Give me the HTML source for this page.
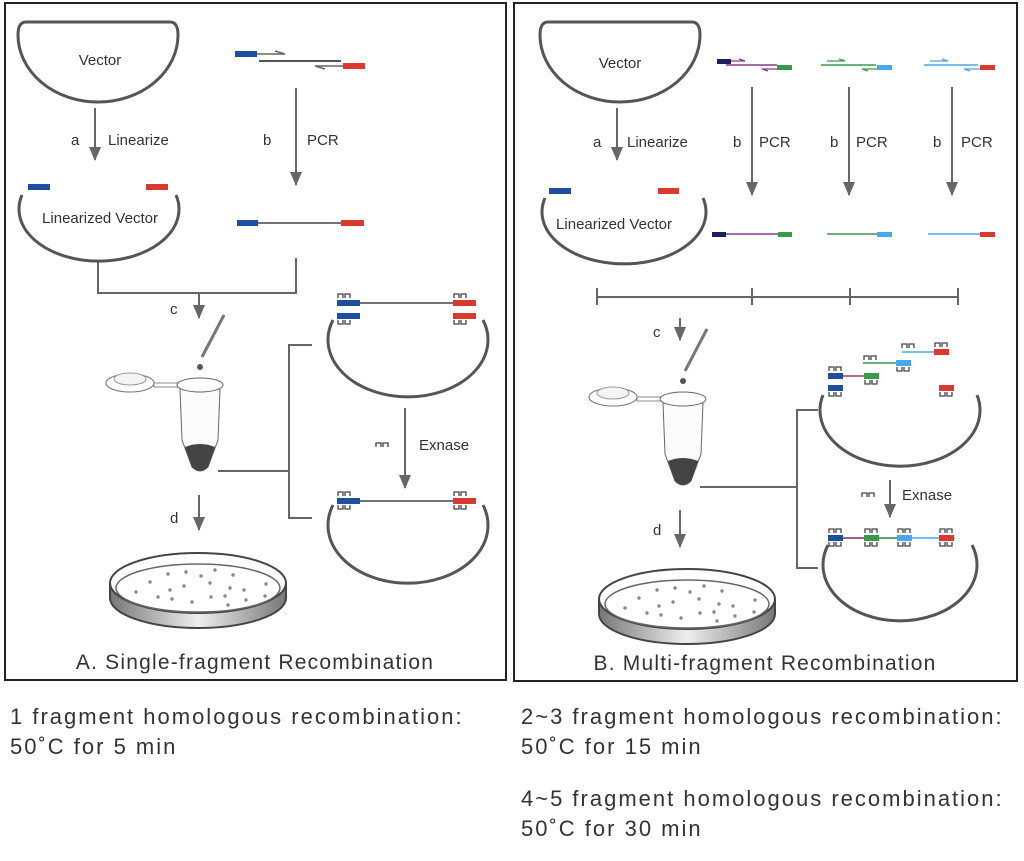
<!DOCTYPE html>
<html><head><meta charset="utf-8"><style>
html,body{margin:0;padding:0;background:#fff;width:1024px;height:861px;overflow:hidden}
svg{display:block}
text{font-family:"Liberation Sans",sans-serif;fill:#333}
</style></head><body>
<svg width="1024" height="861" viewBox="0 0 1024 861" xmlns="http://www.w3.org/2000/svg">
<defs>
<marker id="ah" markerWidth="16" markerHeight="12" refX="13" refY="6" orient="auto" markerUnits="userSpaceOnUse">
<path d="M0,0 L14,6 L0,12 Z" fill="#666"/>
</marker>
<linearGradient id="dish" x1="0" x2="1"><stop offset="0" stop-color="#777"/><stop offset=".5" stop-color="#eee"/><stop offset="1" stop-color="#777"/></linearGradient>
<g id="tube">
<ellipse cx="-70" cy="-2" rx="24" ry="9" fill="#fff" stroke="#777"/>
<ellipse cx="-70" cy="-6" rx="16" ry="6" fill="#f4f4f4" stroke="#999"/>
<rect x="-46" y="-2" width="24" height="4" fill="#fff" stroke="#888"/>
<path d="M-20,4 L-18,55 L-8,82 Q0,90 8,82 L18,55 L20,4" fill="#fbfbfb" stroke="#666"/>
<ellipse cx="0" cy="0" rx="23" ry="7" fill="#fff" stroke="#666"/>
<path d="M-15,62 L-8,82 Q0,90 8,82 L15,62 Q0,56 -15,62 Z" fill="#444"/>
<line x1="24" y1="-70" x2="2" y2="-28" stroke="#777" stroke-width="3"/>
<circle cx="0" cy="-18" r="3" fill="#555"/>
</g>
<g id="ex"><path d="M0,4 L0,0 L5,0 L5,4 M7,4 L7,0 L12,0 L12,4" fill="none" stroke="#444" stroke-width="1.3"/></g>
<g id="exd"><path d="M0,0 L0,4 L5,4 L5,0 M7,0 L7,4 L12,4 L12,0" fill="none" stroke="#444" stroke-width="1.3"/></g>
<g id="dishg">
<path d="M110,583 L110,598 A88,30 0 0 0 286,598 L286,583" fill="url(#dish)" stroke="#444" stroke-width="2"/>
<ellipse cx="198" cy="583" rx="88" ry="30" fill="#fff" stroke="#444" stroke-width="2"/>
<ellipse cx="198" cy="588" rx="82" ry="24" fill="#fff" stroke="#666" stroke-width="1.5"/>
<g fill="#888"><circle cx="150" cy="582" r="1.7"/><circle cx="168" cy="574" r="1.7"/><circle cx="186" cy="572" r="1.7"/><circle cx="201" cy="576" r="1.7"/><circle cx="215" cy="570" r="1.7"/><circle cx="233" cy="575" r="1.7"/><circle cx="136" cy="592" r="1.7"/><circle cx="170" cy="590" r="1.7"/><circle cx="184" cy="586" r="1.7"/><circle cx="210" cy="583" r="1.7"/><circle cx="230" cy="588" r="1.7"/><circle cx="266" cy="584" r="1.7"/><circle cx="158" cy="597" r="1.7"/><circle cx="172" cy="599" r="1.7"/><circle cx="192" cy="602" r="1.7"/><circle cx="211" cy="597" r="1.7"/><circle cx="225" cy="596" r="1.7"/><circle cx="244" cy="590" r="1.7"/><circle cx="246" cy="600" r="1.7"/><circle cx="265" cy="596" r="1.7"/><circle cx="228" cy="605" r="1.7"/></g>
</g>
</defs>

<rect x="5" y="3" width="501" height="677" fill="none" stroke="#222" stroke-width="2"/>
<rect x="514" y="3" width="503" height="678" fill="none" stroke="#222" stroke-width="2"/>

<g fill="none" stroke="#555" stroke-width="3">
<path d="M26,22 L170,22 Q178,22 178,35 A80,67 0 0 1 18,35 Q18,22 26,22 Z"/>
<path d="M22,195 A80,52 0 1 0 176,195"/>
<path d="M333,320 A80,57 0 1 0 483,320"/>
<path d="M333,505 A80,58 0 1 0 483,505"/>
<path d="M548,22 L692,22 Q700,22 700,35 A80,67 0 0 1 540,35 Q540,22 548,22 Z"/>
<path d="M545,198 A82,52 0 1 0 703,198"/>
<path d="M823,395 A80,56 0 1 0 977,395"/>
<path d="M828,545 A77,56 0 1 0 972,545"/>
</g>

<g stroke="#666" stroke-width="2" fill="none">
<line x1="95" y1="108" x2="95" y2="160" marker-end="url(#ah)"/>
<line x1="296" y1="88" x2="296" y2="185" marker-end="url(#ah)"/>
<path d="M98,262 L98,293 L296,293 L296,258"/>
<line x1="199" y1="293" x2="199" y2="318" marker-end="url(#ah)"/>
<path d="M218,471 L289,471 M312,345 L289,345 L289,518 L312,518"/>
<line x1="405" y1="408" x2="405" y2="488" marker-end="url(#ah)"/>
<line x1="199" y1="495" x2="199" y2="530" marker-end="url(#ah)"/>

<line x1="617" y1="108" x2="617" y2="160" marker-end="url(#ah)"/>
<line x1="752" y1="87" x2="752" y2="195" marker-end="url(#ah)"/>
<line x1="849" y1="87" x2="849" y2="195" marker-end="url(#ah)"/>
<line x1="952" y1="87" x2="952" y2="195" marker-end="url(#ah)"/>
<path d="M597,288 L597,305 M597,297 L958,297 M752,288 L752,305 M850,288 L850,305 M958,288 L958,305"/>
<line x1="680" y1="318" x2="680" y2="340" marker-end="url(#ah)"/>
<path d="M700,487 L797,487 M818,410 L797,410 L797,568 L818,568"/>
<line x1="890" y1="480" x2="890" y2="517" marker-end="url(#ah)"/>
<line x1="680" y1="510" x2="680" y2="547" marker-end="url(#ah)"/>
</g>

<!-- Panel A fragments -->
<rect x="235" y="51" width="22" height="6" fill="#1f4ea0"/>
<path d="M257,54 L285,54 L275,51" stroke="#666" stroke-width="1.5" fill="none"/>
<line x1="259" y1="61" x2="341" y2="61" stroke="#555" stroke-width="2"/>
<path d="M343,66 L315,66 L325,69" stroke="#666" stroke-width="1.5" fill="none"/>
<rect x="343" y="63" width="22" height="6" fill="#d93a30"/>
<rect x="28" y="184" width="22" height="6" fill="#1f4ea0"/>
<rect x="146" y="184" width="22" height="6" fill="#d93a30"/>
<line x1="258" y1="223" x2="341" y2="223" stroke="#444" stroke-width="1.5"/>
<rect x="237" y="220" width="21" height="6" fill="#1f4ea0"/>
<rect x="341" y="220" width="23" height="6" fill="#d93a30"/>
<line x1="360" y1="303" x2="453" y2="303" stroke="#444" stroke-width="1.5"/>
<rect x="337" y="300" width="23" height="6" fill="#1f4ea0"/><rect x="337" y="313" width="23" height="6" fill="#1f4ea0"/>
<rect x="453" y="300" width="23" height="6" fill="#d93a30"/><rect x="453" y="313" width="23" height="6" fill="#d93a30"/>
<use href="#ex" x="338" y="294"/><use href="#ex" x="454" y="294"/>
<use href="#exd" x="338" y="320"/><use href="#exd" x="454" y="320"/>
<line x1="360" y1="501" x2="453" y2="501" stroke="#444" stroke-width="1.5"/>
<rect x="337" y="498" width="23" height="6" fill="#1f4ea0"/><rect x="453" y="498" width="23" height="6" fill="#d93a30"/>
<use href="#ex" x="338" y="492"/><use href="#ex" x="454" y="492"/>
<use href="#exd" x="338" y="505"/><use href="#exd" x="454" y="505"/>
<use href="#ex" x="376" y="443"/>

<!-- Panel B fragments -->
<rect x="717" y="59" width="14" height="5" fill="#1c2060"/>
<path d="M731,61 L745,61 L739,59" stroke="#8a3a8a" stroke-width="1.3" fill="none"/>
<line x1="726" y1="65" x2="777" y2="65" stroke="#8a3a8a" stroke-width="1.5"/>
<path d="M777,69 L762,69 L768,71" stroke="#8a3a8a" stroke-width="1.3" fill="none"/>
<rect x="777" y="65" width="15" height="5" fill="#3a9a4a"/>
<path d="M827,61 L845,61 L839,59" stroke="#3a9a4a" stroke-width="1.3" fill="none"/>
<line x1="821" y1="65" x2="876" y2="65" stroke="#3a9a4a" stroke-width="1.5"/>
<path d="M877,69 L862,69 L868,71" stroke="#3a9a4a" stroke-width="1.3" fill="none"/>
<rect x="877" y="65" width="15" height="5" fill="#4aa8e8"/>
<path d="M930,61 L948,61 L942,59" stroke="#4aa8e8" stroke-width="1.3" fill="none"/>
<line x1="924" y1="65" x2="978" y2="65" stroke="#4aa8e8" stroke-width="1.5"/>
<path d="M980,69 L964,69 L970,71" stroke="#4aa8e8" stroke-width="1.3" fill="none"/>
<rect x="980" y="65" width="15" height="5" fill="#d93a30"/>
<rect x="549" y="188" width="22" height="6" fill="#1f4ea0"/>
<rect x="658" y="188" width="21" height="6" fill="#d93a30"/>
<line x1="726" y1="234" x2="778" y2="234" stroke="#8a3a8a" stroke-width="1.5"/>
<rect x="712" y="232" width="14" height="5" fill="#1c2060"/><rect x="778" y="232" width="14" height="5" fill="#3a9a4a"/>
<line x1="827" y1="234" x2="877" y2="234" stroke="#3a9a4a" stroke-width="1.5"/><rect x="877" y="232" width="15" height="5" fill="#4aa8e8"/>
<line x1="928" y1="234" x2="980" y2="234" stroke="#4aa8e8" stroke-width="1.5"/><rect x="980" y="232" width="15" height="5" fill="#d93a30"/>
<line x1="842" y1="376" x2="864" y2="376" stroke="#b03060" stroke-width="1.5"/>
<rect x="828" y="373" width="15" height="6" fill="#1f4ea0"/><rect x="828" y="385" width="15" height="6" fill="#1f4ea0"/>
<rect x="864" y="373" width="15" height="6" fill="#3a9a4a"/>
<line x1="863" y1="363" x2="896" y2="363" stroke="#3a9a4a" stroke-width="1.5"/>
<rect x="896" y="360" width="15" height="6" fill="#4aa8e8"/>
<line x1="902" y1="352" x2="934" y2="352" stroke="#4aa8e8" stroke-width="1.5"/>
<rect x="934" y="349" width="15" height="6" fill="#d93a30"/>
<rect x="939" y="385" width="15" height="6" fill="#d93a30"/>
<use href="#ex" x="829" y="367"/><use href="#exd" x="829" y="392"/><use href="#exd" x="865" y="380"/>
<use href="#ex" x="864" y="356"/><use href="#exd" x="897" y="367"/><use href="#ex" x="902" y="344"/><use href="#ex" x="935" y="343"/>
<use href="#exd" x="940" y="392"/>
<use href="#ex" x="862" y="493"/>
<line x1="843" y1="538" x2="955" y2="538" stroke="#4aa8e8" stroke-width="1.5"/>
<line x1="843" y1="538" x2="864" y2="538" stroke="#b03060" stroke-width="1.5"/>
<line x1="879" y1="538" x2="897" y2="538" stroke="#3a9a4a" stroke-width="1.5"/>
<rect x="828" y="535" width="15" height="6" fill="#1f4ea0"/><rect x="864" y="535" width="15" height="6" fill="#3a9a4a"/>
<rect x="897" y="535" width="15" height="6" fill="#4aa8e8"/><rect x="939" y="535" width="15" height="6" fill="#d93a30"/>
<use href="#ex" x="829" y="529"/><use href="#ex" x="865" y="529"/><use href="#ex" x="898" y="529"/><use href="#ex" x="940" y="529"/>
<use href="#exd" x="829" y="542"/><use href="#exd" x="865" y="542"/><use href="#exd" x="898" y="542"/><use href="#exd" x="940" y="542"/>

<use href="#tube" x="200" y="385"/>
<use href="#tube" x="683" y="399"/>

<use href="#dishg"/>
<use href="#dishg" x="489" y="16"/>

<g font-size="15">
<text x="100" y="65" text-anchor="middle">Vector</text>
<text x="71" y="145">a</text><text x="108" y="145">Linearize</text>
<text x="263" y="145">b</text><text x="307" y="145">PCR</text>
<text x="100" y="223" text-anchor="middle">Linearized Vector</text>
<text x="170" y="314">c</text><text x="170" y="523">d</text>
<text x="419" y="450">Exnase</text>
<text x="620" y="68" text-anchor="middle">Vector</text>
<text x="593" y="147">a</text><text x="627" y="147">Linearize</text>
<text x="733" y="147">b</text><text x="759" y="147">PCR</text>
<text x="830" y="147">b</text><text x="856" y="147">PCR</text>
<text x="933" y="147">b</text><text x="961" y="147">PCR</text>
<text x="614" y="229" text-anchor="middle">Linearized Vector</text>
<text x="653" y="337">c</text><text x="653" y="535">d</text>
<text x="902" y="500">Exnase</text>
</g>
<text x="255" y="669" font-size="21" letter-spacing="1.2" text-anchor="middle">A. Single-fragment Recombination</text>
<text x="765" y="670" font-size="21" letter-spacing="1.2" text-anchor="middle">B. Multi-fragment Recombination</text>
<g font-size="22" letter-spacing="2" style="fill:#222">
<text x="10" y="724">1 fragment homologous recombination:</text>
<text x="10" y="754">50˚C for 5 min</text>
<text x="521" y="724">2~3 fragment homologous recombination:</text>
<text x="521" y="754">50˚C for 15 min</text>
<text x="521" y="806">4~5 fragment homologous recombination:</text>
<text x="521" y="836">50˚C for 30 min</text>
</g>
</svg>
</body></html>
